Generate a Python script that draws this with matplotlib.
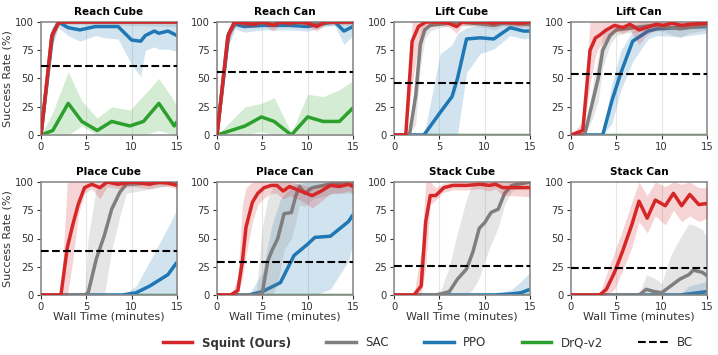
import numpy as np
import matplotlib.pyplot as plt

# Per-task curves: each method is (x, mean, low, high)
TASKS = ["Reach Cube", "Reach Can", "Lift Cube", "Lift Can",
         "Place Cube", "Place Can", "Stack Cube", "Stack Can"]
BC_LEVEL = [61, 56, 46, 54, 39, 29, 26, 24]

squint = {
    "Reach Cube": ([0, 1.2, 2.0, 5, 10, 15],
                   [0, 88, 100, 100, 100, 100],
                   [0, 82, 99, 99, 99, 99],
                   [0, 94, 100, 100, 100, 100]),
    "Reach Can": ([0, 1.2, 1.9, 3, 4, 5, 6.2, 7, 8, 9, 10, 11, 12, 13, 15],
                  [0, 87, 100, 99, 98, 100, 97, 100, 99, 100, 99, 96, 100, 100, 100],
                  [0, 80, 97, 96, 95, 98, 92, 98, 96, 98, 96, 92, 98, 98, 98],
                  [0, 94, 100, 100, 100, 100, 100, 100, 100, 100, 100, 100, 100, 100, 100]),
    "Lift Cube": ([0, 1.3, 2.0, 2.7, 3.5, 5, 6, 6.9, 7.5, 10, 11, 12, 14, 15],
                  [0, 0, 83, 96, 100, 100, 99, 96, 100, 100, 99, 100, 99, 100],
                  [0, 0, 45, 80, 96, 97, 96, 90, 97, 97, 96, 97, 96, 97],
                  [0, 0, 100, 100, 100, 100, 100, 100, 100, 100, 100, 100, 100, 100]),
    "Lift Can": ([0, 1.3, 2.1, 2.7, 3.1, 3.9, 4.8, 5.7, 6.5, 7.5, 8.3, 9.4, 10.2, 11.1, 12.2, 13.1, 15],
                 [0, 4, 75, 86, 88, 93, 97, 95, 98, 93, 95, 98, 97, 99, 97, 98, 99],
                 [0, 0, 45, 70, 78, 85, 92, 90, 93, 80, 88, 93, 93, 96, 94, 95, 97],
                 [0, 12, 100, 100, 100, 100, 100, 100, 100, 100, 100, 100, 100, 100, 100, 100, 100]),
    "Place Cube": ([0, 2.2, 2.9, 3.5, 4.1, 4.8, 5.6, 6.5, 7.3, 8.5, 10, 12, 13, 14, 15],
                   [0, 0, 42, 62, 80, 95, 98, 95, 100, 98, 100, 98, 100, 99, 97],
                   [0, 0, 0, 30, 70, 90, 94, 85, 96, 94, 96, 94, 96, 96, 94],
                   [0, 0, 100, 100, 100, 100, 100, 100, 100, 100, 100, 100, 100, 100, 100]),
    "Place Can": ([0, 1.5, 2.3, 2.8, 3.2, 3.9, 4.5, 5.2, 6, 6.6, 7.3, 8, 9.2, 10.5, 11.5, 12.5, 13.5, 14.5, 15],
                  [0, 0, 4, 30, 60, 82, 90, 95, 97, 97, 92, 96, 92, 88, 92, 97, 96, 98, 96],
                  [0, 0, 0, 15, 35, 65, 80, 86, 90, 90, 85, 88, 84, 77, 83, 90, 90, 92, 90],
                  [0, 0, 15, 80, 95, 100, 100, 100, 100, 100, 100, 100, 98, 95, 98, 100, 100, 100, 100]),
    "Stack Cube": ([0, 2.2, 3.0, 3.5, 4.0, 4.6, 5.5, 6.5, 8, 9.5, 10.5, 11.2, 12, 13, 15],
                   [0, 0, 8, 65, 88, 88, 95, 97, 97, 98, 97, 98, 95, 95, 95],
                   [0, 0, 0, 25, 80, 84, 91, 93, 93, 94, 92, 94, 88, 88, 87],
                   [0, 0, 40, 100, 100, 95, 99, 100, 100, 100, 100, 100, 100, 100, 100]),
    "Stack Can": ([0, 3.15, 3.9, 4.8, 5.7, 6.7, 7.5, 8.4, 9.3, 10.4, 11.3, 12.2, 13.1, 14.1, 15],
                  [0, 0, 5, 20, 39, 62, 83, 68, 84, 79, 90, 79, 89, 80, 81],
                  [0, 0, 0, 5, 22, 42, 65, 55, 70, 62, 75, 65, 70, 65, 68],
                  [0, 0, 18, 38, 58, 82, 100, 88, 100, 96, 100, 98, 100, 95, 95]),
}

sac = {
    "Reach Cube": ([0, 1.2, 2.0, 15], [0, 88, 100, 100], [0, 80, 98, 96], [0, 95, 100, 100]),
    "Reach Can": ([0, 1.2, 2.0, 15], [0, 88, 100, 100], [0, 80, 97, 97], [0, 95, 100, 100]),
    "Lift Cube": ([0, 1.7, 2.4, 2.9, 3.4, 4, 5, 7, 10, 11, 12, 15],
                  [0, 0, 35, 80, 93, 97, 98, 100, 98, 97, 99, 98],
                  [0, 0, 10, 60, 85, 92, 95, 97, 95, 93, 96, 95],
                  [0, 0, 60, 95, 99, 100, 100, 100, 100, 100, 100, 100]),
    "Lift Can": ([0, 1.5, 2.4, 3.0, 3.5, 4.3, 5, 6, 7, 8, 9, 10, 12, 13, 15],
                 [0, 0, 30, 50, 75, 88, 93, 94, 95, 96, 97, 96, 94, 95, 97],
                 [0, 0, 15, 30, 60, 80, 88, 90, 91, 92, 92, 92, 86, 90, 93],
                 [0, 0, 45, 70, 88, 96, 98, 98, 99, 100, 100, 99, 98, 99, 100]),
    "Place Cube": ([0, 4.8, 5.2, 6.1, 7.0, 7.8, 8.7, 9.4, 15],
                   [0, 0, 2, 32, 53, 76, 91, 98, 100],
                   [0, 0, 0, 0, 0, 40, 70, 90, 98],
                   [0, 0, 50, 95, 100, 100, 100, 100, 100]),
    "Place Can": ([0, 4.3, 5.0, 5.6, 6.1, 6.7, 7.4, 8.2, 8.7, 9.1, 9.7, 10.5, 13, 15],
                  [0, 0, 2, 30, 40, 50, 72, 73, 88, 96, 90, 95, 99, 98],
                  [0, 0, 0, 0, 0, 10, 40, 50, 65, 80, 78, 85, 90, 90],
                  [0, 0, 60, 85, 95, 100, 100, 100, 100, 100, 100, 100, 100, 100]),
    "Stack Cube": ([0, 4.5, 5.2, 6.1, 7.0, 8.0, 8.7, 9.4, 10, 10.7, 11.5, 12.2, 13, 15],
                   [0, 0, 1, 3, 14, 23, 38, 59, 64, 73, 76, 90, 97, 100],
                   [0, 0, 0, 0, 0, 0, 5, 15, 30, 45, 60, 80, 92, 98],
                   [0, 0, 5, 25, 55, 85, 100, 100, 100, 100, 100, 100, 100, 100]),
    "Stack Can": ([0, 7.5, 8.3, 9.2, 10, 11, 12, 13, 13.5, 14.5, 15],
                  [0, 0, 5, 3, 2, 8, 14, 18, 22, 20, 17],
                  [0, 0, 0, 0, 0, 0, 0, 0, 0, 0, 0],
                  [0, 0, 18, 15, 10, 35, 50, 63, 62, 58, 50]),
}

ppo = {
    "Reach Cube": ([0, 1.3, 1.9, 3, 4.3, 6, 7, 8.5, 10, 11, 11.5, 12.5, 13, 14, 15],
                   [0, 90, 100, 95, 93, 96, 96, 96, 84, 83, 88, 92, 90, 92, 88],
                   [0, 80, 95, 88, 83, 88, 86, 85, 62, 52, 75, 78, 76, 76, 74],
                   [0, 96, 100, 100, 100, 100, 100, 100, 100, 100, 100, 100, 100, 100, 100]),
    "Reach Can": ([0, 1.3, 2, 3, 5, 8, 10, 12, 13, 14, 15],
                  [0, 90, 98, 96, 97, 97, 96, 99, 100, 92, 96],
                  [0, 80, 94, 91, 93, 93, 92, 96, 97, 80, 88],
                  [0, 96, 100, 100, 100, 100, 100, 100, 100, 100, 100]),
    "Lift Cube": ([0, 3.3, 5.1, 6.4, 7.0, 8.0, 9.5, 11, 12.8, 14.3, 15],
                  [0, 0, 20, 34, 50, 85, 86, 85, 95, 92, 92],
                  [0, 0, 0, 0, 0, 55, 72, 76, 88, 85, 86],
                  [0, 0, 72, 80, 90, 95, 97, 98, 100, 100, 100]),
    "Lift Can": ([0, 3.5, 4.5, 5.5, 6.8, 8.5, 9.5, 12, 15],
                 [0, 0, 30, 55, 83, 92, 94, 95, 96],
                 [0, 0, 10, 40, 65, 85, 88, 87, 90],
                 [0, 0, 45, 75, 92, 97, 99, 100, 100]),
    "Place Cube": ([0, 9, 10.5, 12, 13, 14, 15],
                   [0, 0, 2, 8, 13, 18, 29],
                   [0, 0, 0, 0, 0, 0, 0],
                   [0, 0, 8, 30, 45, 60, 76]),
    "Place Can": ([0, 3.5, 5, 6, 7, 8.5, 10, 10.8, 12.5, 14.5, 15],
                  [0, 0, 3, 7, 11, 35, 45, 51, 52, 65, 71],
                  [0, 0, 0, 0, 0, 0, 0, 0, 5, 30, 45],
                  [0, 0, 20, 60, 85, 98, 100, 100, 100, 100, 100]),
    "Stack Cube": ([0, 11, 13, 14, 15],
                   [0, 0, 1, 2, 5],
                   [0, 0, 0, 0, 0],
                   [0, 0, 5, 12, 20]),
    "Stack Can": ([0, 12, 13, 15],
                  [0, 0, 1, 3],
                  [0, 0, 0, 0],
                  [0, 0, 8, 12]),
}

drq = {
    "Reach Cube": ([0, 1.3, 3, 4.5, 6.2, 7.8, 9.8, 11.3, 13, 14.7, 15],
                   [0, 4, 28, 12, 4, 12, 8, 12, 28, 8, 12],
                   [0, 0, 0, 8, 0, 0, 0, 0, 4, 0, 0],
                   [0, 20, 56, 30, 15, 25, 22, 35, 50, 30, 22]),
    "Reach Can": ([0, 3.1, 4.9, 6.3, 8.2, 10, 11.7, 13.5, 15],
                  [0, 8, 16, 12, 0, 16, 12, 12, 24],
                  [0, 0, 3, 0, 0, 0, 0, 0, 0],
                  [0, 25, 28, 33, 2, 36, 34, 40, 48]),
}

COLORS = {"squint": "#d62728", "sac": "#7f7f7f", "ppo": "#1f77b4", "drq": "#2ca02c"}

fig = plt.figure(figsize=(7.18, 3.55), dpi=100)
W, H = 718, 355
col_left = [41, 217, 394, 571]
row_top = [22, 182]
aw, ah = 136, 113


def draw(ax, series, color, z):
    x, m, lo, hi = series
    ax.fill_between(x, lo, hi, color=color, alpha=0.2, lw=0, zorder=z)
    ax.plot(x, m, color=color, lw=2.5, zorder=z + 0.5, solid_capstyle="butt")


for i, task in enumerate(TASKS):
    r, c = divmod(i, 4)
    ax = fig.add_axes([col_left[c] / W, 1 - (row_top[r] + ah) / H, aw / W, ah / H])
    if task in drq:
        draw(ax, drq[task], COLORS["drq"], 1)
    else:
        ax.plot([0, 15], [0, 0], color=COLORS["drq"], lw=2.5, zorder=1.5)
    draw(ax, ppo[task], COLORS["ppo"], 2)
    draw(ax, sac[task], COLORS["sac"], 3)
    draw(ax, squint[task], COLORS["squint"], 4)
    ax.axhline(BC_LEVEL[i], color="black", ls="--", lw=1.5, zorder=6)

    ax.set_xlim(0, 15)
    ax.set_ylim(0, 100)
    ax.set_xticks([0, 5, 10, 15])
    ax.set_yticks([0, 25, 50, 75, 100])
    ax.grid(axis="x", color="#e6e6e6", lw=0.8)
    ax.set_axisbelow(True)
    for s in ax.spines.values():
        s.set_color("#8c8c8c")
        s.set_linewidth(1.2)
    ax.tick_params(labelsize=7.2, colors="#333333", length=3, width=0.8, pad=2)
    ax.set_title(task, fontsize=7.5, fontweight="bold", pad=5)
    if c == 0:
        ax.set_ylabel("Success Rate (%)", fontsize=8, color="#333333", labelpad=2)
    if r == 1:
        ax.set_xlabel("Wall Time (minutes)", fontsize=8, color="#333333", labelpad=0)

handles = [
    plt.Line2D([], [], color=COLORS["squint"], lw=2.5),
    plt.Line2D([], [], color=COLORS["sac"], lw=2.5),
    plt.Line2D([], [], color=COLORS["ppo"], lw=2.5),
    plt.Line2D([], [], color=COLORS["drq"], lw=2.5),
    plt.Line2D([], [], color="black", ls="--", lw=1.5),
]
labels = ["Squint (Ours)", "SAC", "PPO", "DrQ-v2", "BC"]
leg = fig.legend(handles, labels, loc="center", bbox_to_anchor=(428 / W, 1 - 343 / H),
                 ncol=5, frameon=False, fontsize=8.5, handlelength=2.5, columnspacing=3.0)
leg.get_texts()[0].set_fontweight("bold")
for t in leg.get_texts():
    t.set_color("#333333")

fig.savefig("out.png", dpi=100)
